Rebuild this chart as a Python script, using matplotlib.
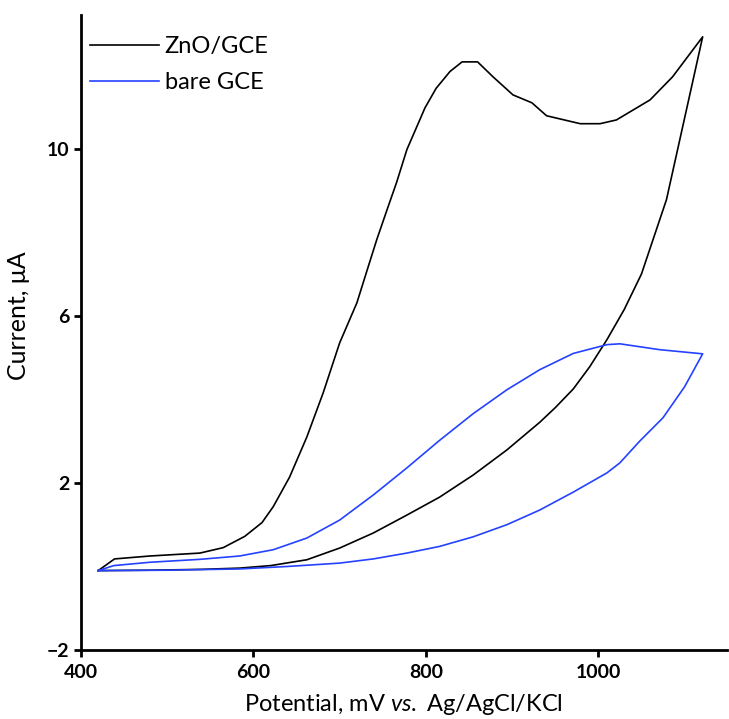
import numpy as np
import matplotlib.pyplot as plt

plt.rcParams['font.family'] = ['Lato', 'DejaVu Sans']
plt.rcParams['mathtext.fontset'] = 'custom'
plt.rcParams['mathtext.rm'] = 'Lato'
plt.rcParams['mathtext.it'] = 'Lato:italic'

# ZnO/GCE: forward scan then reverse scan (mV, uA)
zno_potential = [420, 439, 480, 538, 565, 590, 610, 623, 642, 662, 681, 700, 720, 732, 743, 755,
                 766, 778, 799, 812, 828, 842, 860, 878, 901, 923, 940, 979, 1002, 1021, 1060, 1086, 1121,
                 1100, 1079, 1050, 1030, 1010, 990, 971, 950, 932, 894, 855, 816, 778, 739, 700,
                 662, 620, 584, 540, 480, 420]
zno_current = [-0.1, 0.18, 0.25, 0.32, 0.45, 0.72, 1.05, 1.43, 2.14, 3.10, 4.16, 5.35, 6.31, 7.10, 7.82, 8.54,
               9.19, 9.98, 10.98, 11.45, 11.85, 12.08, 12.08, 11.72, 11.29, 11.10, 10.79, 10.60, 10.60, 10.69,
               11.17, 11.72, 12.68,
               10.73, 8.78, 7.0, 6.15, 5.43, 4.78, 4.25, 3.80, 3.45, 2.79, 2.19, 1.66, 1.23, 0.80, 0.44,
               0.16, 0.02, -0.04, -0.07, -0.09, -0.1]

# bare GCE
bare_potential = [420, 438, 480, 538, 584, 623, 662, 700, 739, 778, 816, 855, 894, 932, 971, 1010,
                  1025, 1071, 1121,
                  1100, 1075, 1048, 1025, 1010, 971, 932, 894, 855, 816, 778, 739, 700, 640, 584, 500, 420]
bare_current = [-0.1, 0.02, 0.1, 0.17, 0.25, 0.40, 0.68, 1.11, 1.71, 2.36, 3.02, 3.66, 4.23, 4.71, 5.10, 5.31,
                5.33, 5.19, 5.09,
                4.3, 3.56, 3.0, 2.48, 2.24, 1.78, 1.35, 1.0, 0.71, 0.48, 0.32, 0.18, 0.08, 0.0, -0.06, -0.09, -0.1]

fig = plt.figure(figsize=(7.29, 7.19), dpi=100)
ax = fig.add_axes([0.111, 0.096, 0.886, 0.883])

ax.plot(zno_potential, zno_current, color='black', linewidth=1.2, label='ZnO/GCE')
ax.plot(bare_potential, bare_current, color='#2442ff', linewidth=1.2, label='bare GCE')

ax.set_xlim(400, 1149)
ax.set_ylim(-2, 13.2)
ax.set_xticks([400, 600, 800, 1000])
ax.set_yticks([-2, 2, 6, 10])

for side in ['top', 'right']:
    ax.spines[side].set_visible(False)
for side in ['left', 'bottom']:
    ax.spines[side].set_linewidth(2.0)
ax.tick_params(width=2.0, length=5, labelsize=14)
ax.tick_params(axis='x', pad=5)
for lbl in ax.get_xticklabels() + ax.get_yticklabels():
    lbl.set_fontweight('bold')

ax.set_xlabel(r'Potential, mV $\mathit{vs.}$ Ag/AgCl/KCl', fontsize=17, labelpad=8)
ax.set_ylabel('Current, \u03bcA', fontsize=18)
ax.yaxis.set_label_coords(-0.079, 0.526)

ax.legend(loc='upper left', frameon=False, fontsize=17, handlelength=2.9,
          handletextpad=0.25, borderaxespad=0.0, labelspacing=0.65,
          bbox_to_anchor=(0.0, 0.982))

fig.savefig('out.png', dpi=100)
